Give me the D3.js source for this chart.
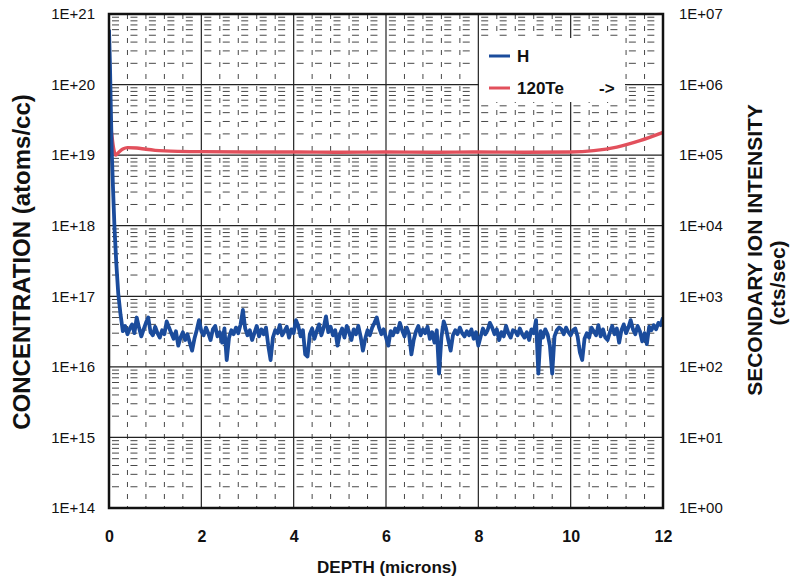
<!DOCTYPE html>
<html>
<head>
<meta charset="utf-8">
<script src="https://d3js.org/d3.v7.min.js"></script>
<style>
body { margin: 0; background: #fff; }
text { font-family: "Liberation Sans", Arial, sans-serif; }
</style>
</head>
<body>
<div id="chart"></div>
<script>
// H profile near the surface (depth in microns, atoms/cc)
var surfaceDepth = [0, 0.02, 0.04, 0.06, 0.09, 0.12, 0.16, 0.2, 0.25];
var surfaceConc = [6e20, 2e20, 4.5e19, 1.1e19, 3e18, 9e17, 2.8e17, 1.1e17, 5.5e16];

// H bulk level, one reading every 0.05 micron from 0.3 micron, in units of 1E+16 atoms/cc
var bulkStart = 0.3, bulkStep = 0.05;
var bulkConc = [
  3.2, 3.8, 2.9, 3.5, 4.0, 3.0, 5.0, 3.6, 2.7, 3.4,
  4.2, 5.0, 3.1, 2.8, 3.7, 3.0, 2.6, 3.3, 2.9, 4.4,
  3.6, 3.0, 2.5, 3.2, 2.0, 2.6, 3.1, 2.4, 2.9, 2.2,
  1.7, 2.5, 3.3, 4.6, 3.2, 2.8, 3.6, 3.0, 2.4, 3.4,
  3.8, 2.7, 3.1, 2.2, 3.5, 1.25, 2.6, 3.3, 2.9, 3.6,
  3.0, 4.0, 6.4, 3.5, 2.8, 3.3, 2.4, 3.0, 3.8, 2.7,
  3.4, 2.9, 3.6, 2.0, 1.25, 2.6, 3.3, 3.0, 3.9, 2.8,
  3.2, 3.7, 2.6, 3.4, 3.0, 4.6, 3.8, 2.7, 3.3, 1.5,
  1.4, 2.9, 3.5, 2.5, 3.2, 4.0, 2.8, 3.6, 5.2, 3.1,
  3.7, 2.8, 3.3, 2.0, 2.9, 3.5, 2.6, 3.8, 3.1, 2.4,
  3.4, 2.9, 3.8, 2.7, 1.7, 2.5, 3.3, 2.8, 3.6, 4.2,
  5.0, 3.6, 2.9, 3.4, 2.6, 2.0, 3.2, 2.8, 3.5, 3.1,
  4.2, 3.3, 2.7, 3.6, 2.9, 1.5, 2.4, 3.2, 3.8, 2.8,
  3.4, 3.0, 3.7, 2.5, 3.1, 2.2, 3.3, 0.8, 2.6, 4.4,
  3.5, 2.4, 1.7, 2.8, 3.3, 2.9, 3.6, 3.0, 2.7, 3.2,
  2.8, 3.4, 2.5, 3.1, 2.0, 2.7, 3.5, 2.9, 3.3, 4.2,
  3.6, 2.9, 3.4, 2.4, 3.1, 2.7, 3.8, 3.0, 2.6, 3.3,
  3.2, 2.8, 3.5, 2.9, 2.6, 3.1, 2.4, 3.4, 3.0, 4.6,
  0.8, 3.2, 2.6, 3.4, 2.9, 2.0, 0.8, 2.7, 3.3, 3.6,
  3.4, 2.9, 3.6, 3.1, 2.8, 3.3, 3.5, 2.7, 1.6, 1.25,
  2.5, 3.0, 2.6, 3.6, 3.2, 2.8, 3.9, 2.7, 3.4, 2.6,
  2.4, 3.1, 3.8, 2.9, 3.5, 2.2, 3.3, 4.0, 3.0, 3.6,
  4.6, 3.4, 2.9, 3.8, 3.2, 2.3, 3.0, 2.1, 3.7, 3.3,
  3.9, 3.4, 4.2, 3.9, 5.0
];

// 120Te secondary ion intensity (cts/sec), right axis
var teDepth = [0, 0.05, 0.1, 0.14, 0.2, 0.3, 0.4, 0.6, 0.8, 1.0, 1.5, 2, 3, 4, 5, 6, 7, 8, 9, 10, 10.5, 11, 11.5, 12];
var teCounts = [4.0e5, 2.2e5, 1.25e5, 1.0e5, 1.08e5, 1.22e5, 1.28e5, 1.26e5, 1.21e5, 1.17e5, 1.13e5, 1.12e5,
                1.11e5, 1.11e5, 1.1e5, 1.11e5, 1.1e5, 1.11e5, 1.1e5, 1.11e5, 1.16e5, 1.3e5, 1.6e5, 2.1e5];

var xTicks = [0, 2, 4, 6, 8, 10, 12];
var leftDecades = [14, 15, 16, 17, 18, 19, 20, 21];
var rightDecades = [0, 1, 2, 3, 4, 5, 6, 7];

var hData = surfaceDepth.map(function(d, i) { return {x: d, y: surfaceConc[i]}; })
  .concat(bulkConc.map(function(v, i) { return {x: bulkStart + i * bulkStep, y: v * 1e16}; }));
var teData = teDepth.map(function(d, i) { return {x: d, y: teCounts[i]}; });

var W = 793, H = 582;
var margin = { top: 14, right: 130, bottom: 74, left: 109 };
var width = W - margin.left - margin.right;   // 554
var height = H - margin.top - margin.bottom;  // 494

var svg = d3.select("#chart").append("svg")
  .attr("width", W).attr("height", H);
svg.append("rect").attr("width", W).attr("height", H).attr("fill", "#fff");

var g = svg.append("g").attr("transform", "translate(" + margin.left + "," + margin.top + ")");

var xScale = d3.scaleLinear().domain([0, 12]).range([0, width]);
var yLeft = d3.scaleLog().domain([1e14, 1e21]).range([height, 0]);
var yRight = d3.scaleLog().domain([1, 1e7]).range([height, 0]);

// minor grid
var minorY = [];
leftDecades.slice(0, -1).forEach(function(d) {
  for (var k = 2; k <= 9; k++) minorY.push(k * Math.pow(10, d));
});
var minorX = d3.range(1, 30).filter(function(i) { return i % 5 !== 0; }).map(function(i) { return i * 0.4; });

g.selectAll(".minor-h").data(minorY).enter().append("line")
  .attr("x1", 0).attr("x2", width)
  .attr("y1", function(d) { return yLeft(d); }).attr("y2", function(d) { return yLeft(d); })
  .attr("stroke", "#333").attr("stroke-width", 0.9)
  .attr("stroke-dasharray", "7,11.46").attr("stroke-dashoffset", -3);

g.selectAll(".minor-v").data(minorX).enter().append("line")
  .attr("x1", function(d) { return xScale(d); }).attr("x2", function(d) { return xScale(d); })
  .attr("y1", 0).attr("y2", height)
  .attr("stroke", "#333").attr("stroke-width", 0.9)
  .attr("stroke-dasharray", "5,7");

// major grid
g.selectAll(".major-h").data(leftDecades).enter().append("line")
  .attr("x1", 0).attr("x2", width)
  .attr("y1", function(d) { return yLeft(Math.pow(10, d)); })
  .attr("y2", function(d) { return yLeft(Math.pow(10, d)); })
  .attr("stroke", "#222").attr("stroke-width", 1.2);

g.selectAll(".major-v").data(xTicks).enter().append("line")
  .attr("x1", function(d) { return xScale(d); }).attr("x2", function(d) { return xScale(d); })
  .attr("y1", 0).attr("y2", height)
  .attr("stroke", "#222").attr("stroke-width", 1.2);

// legend background hides the grid
g.append("rect").attr("x", 370).attr("y", 24).attr("width", 146).attr("height", 64).attr("fill", "#fff");

g.append("clipPath").attr("id", "clip").append("rect").attr("width", width).attr("height", height);

var hLine = d3.line()
  .x(function(d) { return xScale(d.x); })
  .y(function(d) { return yLeft(d.y); });

var teLine = d3.line()
  .curve(d3.curveMonotoneX)
  .x(function(d) { return xScale(d.x); })
  .y(function(d) { return yRight(d.y); });

g.append("path").datum(teData)
  .attr("clip-path", "url(#clip)")
  .attr("fill", "none").attr("stroke", "#e2505c").attr("stroke-width", 3.4)
  .attr("d", teLine);

g.append("path").datum(hData)
  .attr("clip-path", "url(#clip)")
  .attr("fill", "none").attr("stroke", "#1b4c9c").attr("stroke-width", 3.8)
  .attr("stroke-linejoin", "round")
  .attr("d", hLine);

// frame
g.append("rect").attr("width", width).attr("height", height)
  .attr("fill", "none").attr("stroke", "#111").attr("stroke-width", 2.5);

// axes
var expFmt = function(d) {
  var e = Math.round(Math.log10(d));
  return "1E+" + (e < 10 ? "0" + e : e);
};

var leftAxis = g.append("g")
  .call(d3.axisLeft(yLeft).tickValues(leftDecades.map(function(d) { return Math.pow(10, d); }))
    .tickFormat(expFmt).tickSize(0).tickPadding(14));
var rightAxis = g.append("g").attr("transform", "translate(" + width + ",0)")
  .call(d3.axisRight(yRight).tickValues(rightDecades.map(function(d) { return Math.pow(10, d); }))
    .tickFormat(expFmt).tickSize(0).tickPadding(16));
var bottomAxis = g.append("g").attr("transform", "translate(0," + height + ")")
  .call(d3.axisBottom(xScale).tickValues(xTicks).tickFormat(d3.format("d")).tickSize(0).tickPadding(23));

[leftAxis, rightAxis, bottomAxis].forEach(function(a) {
  a.select(".domain").remove();
  a.selectAll("text").style("font-size", "15px").attr("fill", "#111")
    .style("font-family", "'Liberation Sans', Arial, sans-serif");
});
bottomAxis.selectAll("text").style("font-weight", "bold").style("font-size", "16px");

// legend
g.append("line").attr("x1", 380).attr("x2", 401).attr("y1", 42).attr("y2", 42)
  .attr("stroke", "#1b4c9c").attr("stroke-width", 3);
g.append("text").attr("x", 408).attr("y", 48).text("H")
  .style("font-size", "17px").style("font-weight", "bold").attr("fill", "#111");
g.append("line").attr("x1", 380).attr("x2", 401).attr("y1", 74).attr("y2", 74)
  .attr("stroke", "#e2505c").attr("stroke-width", 3);
g.append("text").attr("x", 408).attr("y", 80).text("120Te")
  .style("font-size", "17px").style("font-weight", "bold").attr("fill", "#111");
g.append("text").attr("x", 490).attr("y", 80).text("->")
  .style("font-size", "17px").style("font-weight", "bold").attr("fill", "#111");

// axis titles
svg.append("text").attr("x", 387).attr("y", 573).attr("text-anchor", "middle")
  .text("DEPTH (microns)")
  .style("font-size", "17px").style("font-weight", "bold").attr("fill", "#111");

svg.append("text").attr("transform", "translate(30,262) rotate(-90)").attr("text-anchor", "middle")
  .text("CONCENTRATION (atoms/cc)")
  .style("font-size", "24px").style("font-weight", "bold").attr("fill", "#111");

svg.append("text").attr("transform", "translate(762,250) rotate(-90)").attr("text-anchor", "middle")
  .text("SECONDARY ION INTENSITY")
  .style("font-size", "21px").style("font-weight", "bold").attr("fill", "#111");
svg.append("text").attr("transform", "translate(785,283) rotate(-90)").attr("text-anchor", "middle")
  .text("(cts/sec)")
  .style("font-size", "21px").style("font-weight", "bold").attr("fill", "#111");
</script>
</body>
</html>
